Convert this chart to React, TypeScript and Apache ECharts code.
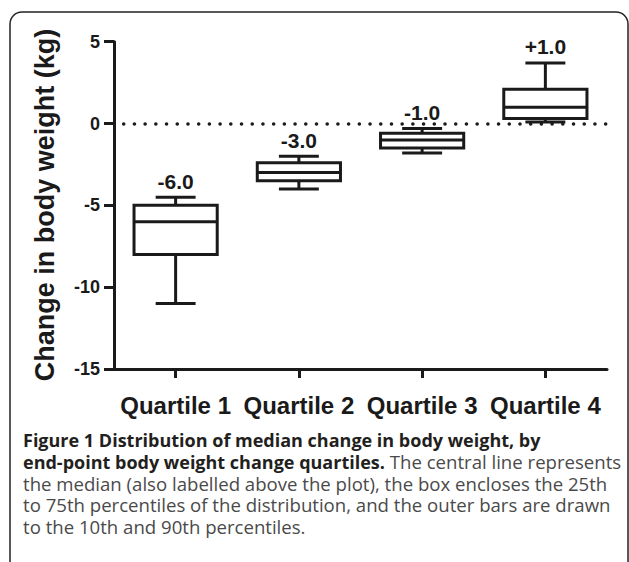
import React, { useEffect, useRef } from "react";
import * as echarts from "echarts";

const categories = ["Quartile 1", "Quartile 2", "Quartile 3", "Quartile 4"];
const p10 = [-11, -4, -1.8, 0.1];
const p25 = [-8, -3.5, -1.5, 0.3];
const median = [-6, -3, -1, 1];
const p75 = [-5, -2.4, -0.6, 2.1];
const p90 = [-4.5, -2, -0.3, 3.7];
const medianLabels = ["-6.0", "-3.0", "-1.0", "+1.0"];
const yMin = -15;
const yMax = 5;
const yStep = 5;

const yTitle = "Change in body weight (kg)";
const captionBold1 = "Figure 1 Distribution of median change in body weight, by";
const captionBold2 = "end-point body weight change quartiles.";
const captionReg2 = " The central line represents";
const captionReg3 = "the median (also labelled above the plot), the box encloses the 25th";
const captionReg4 = "to 75th percentiles of the distribution, and the outer bars are drawn";
const captionReg5 = "to the 10th and 90th percentiles.";

const FONT = "'Liberation Sans', Arial, Helvetica, sans-serif";
const INK = "#1a1a1a";

export default function App() {
  const ref = useRef<HTMLDivElement>(null);

  useEffect(() => {
    document.body.style.margin = "0";
    const chart = echarts.init(ref.current!, null, { renderer: "svg" });
    const boxData = categories.map((_, i) => [i, p10[i], p25[i], median[i], p75[i], p90[i]]);

    chart.setOption({
      animation: false,
      backgroundColor: "#fff",
      grid: { left: 114, right: 22, top: 41.7, bottom: 193, containLabel: false },
      xAxis: {
        type: "category",
        data: categories,
        boundaryGap: true,
        axisLine: { show: true, onZero: false, lineStyle: { color: INK, width: 3 } },
        axisTick: { show: true, alignWithLabel: true, length: 9, lineStyle: { color: INK, width: 3 } },
        axisLabel: { color: INK, fontFamily: FONT, fontWeight: "bold", fontSize: 24, margin: 24, interval: 0 },
        splitLine: { show: false },
      },
      yAxis: {
        type: "value",
        min: yMin,
        max: yMax,
        interval: yStep,
        axisLine: { show: true, lineStyle: { color: INK, width: 3 } },
        axisTick: { show: true, length: 10, lineStyle: { color: INK, width: 3 } },
        axisLabel: { color: INK, fontFamily: FONT, fontWeight: "bold", fontSize: 18, margin: 14 },
        splitLine: { show: false },
      },
      series: [
        {
          type: "custom",
          data: boxData,
          encode: { x: 0, y: [1, 2, 3, 4, 5] },
          renderItem: (params: any, api: any) => {
            const idx = api.value(0);
            const lo = api.coord([idx, api.value(1)]);
            const q1 = api.coord([idx, api.value(2)]);
            const md = api.coord([idx, api.value(3)]);
            const q3 = api.coord([idx, api.value(4)]);
            const hi = api.coord([idx, api.value(5)]);
            const bw = api.size([1, 0])[0] * 0.675;
            const cw = bw * 0.48;
            const x = lo[0];
            const st = { stroke: INK, lineWidth: 3, fill: null };
            return {
              type: "group",
              children: [
                { type: "line", shape: { x1: x, y1: hi[1], x2: x, y2: q3[1] }, style: st },
                { type: "line", shape: { x1: x, y1: q1[1], x2: x, y2: lo[1] }, style: st },
                { type: "line", shape: { x1: x - cw / 2, y1: hi[1], x2: x + cw / 2, y2: hi[1] }, style: st },
                { type: "line", shape: { x1: x - cw / 2, y1: lo[1], x2: x + cw / 2, y2: lo[1] }, style: st },
                {
                  type: "rect",
                  shape: { x: x - bw / 2, y: q3[1], width: bw, height: q1[1] - q3[1] },
                  style: { stroke: INK, lineWidth: 3, fill: "#fff" },
                },
                { type: "line", shape: { x1: x - bw / 2, y1: md[1], x2: x + bw / 2, y2: md[1] }, style: st },
                {
                  type: "text",
                  x: x,
                  y: hi[1] - 16,
                  style: {
                    text: medianLabels[idx],
                    align: "center",
                    verticalAlign: "middle",
                    font: `bold 21px ${FONT}`,
                    fill: INK,
                  },
                },
              ],
            };
          },
          markLine: {
            silent: true,
            symbol: "none",
            label: { show: false },
            data: [{ yAxis: 0 }],
            lineStyle: { type: [0.01, 10.7], dashOffset: 1.2, cap: "round", width: 3.6, color: INK },
          },
          z: 3,
        },
      ],
      graphic: [
        {
          type: "rect",
          shape: { x: 10, y: 12, width: 618, height: 620, r: 12 },
          style: { stroke: "#222", lineWidth: 1.5, fill: "transparent" },
          silent: true,
          z: -1,
        },
        {
          type: "text",
          x: 44.7,
          y: 205,
          rotation: Math.PI / 2,
          style: {
            text: yTitle,
            align: "center",
            verticalAlign: "middle",
            font: `bold 27px ${FONT}`,
            fill: INK,
          },
        },
        {
          type: "text",
          x: 23,
          y: 429,
          style: {
            text:
              `{b|${captionBold1}}\n{b|${captionBold2}}{r|${captionReg2}}\n{r|${captionReg3}}\n{r|${captionReg4}}\n{r|${captionReg5}}`,
            align: "left",
            verticalAlign: "top",
            rich: {
              b: { fontFamily: "Open Sans", fontWeight: "bold", fontSize: 18, lineHeight: 21.7, fill: "#231f20", color: "#231f20" },
              r: { fontFamily: "Open Sans", fontWeight: "normal", fontSize: 18.6, lineHeight: 21.7, fill: "#4a4a4a", color: "#4a4a4a" },
            },
          },
        },
      ],
    });

    return () => chart.dispose();
  }, []);

  return <div ref={ref} style={{ width: 629, height: 562 }} />;
}
